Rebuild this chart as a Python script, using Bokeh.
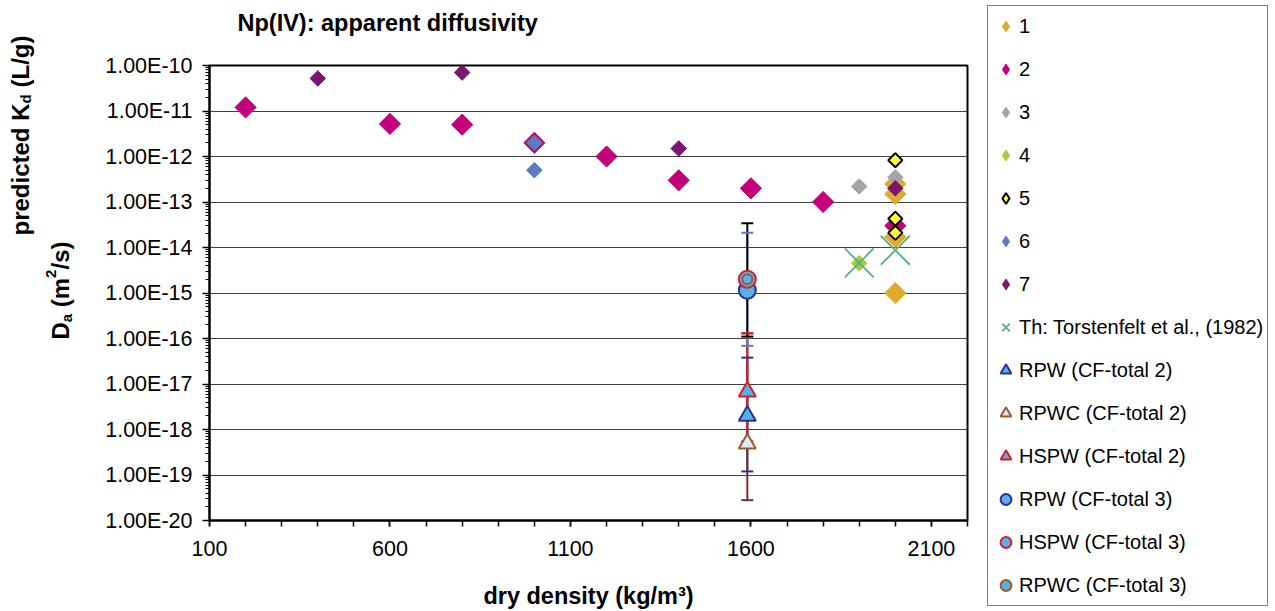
import math
from bokeh.plotting import figure
from bokeh.models import FixedTicker, CustomJSTickFormatter, Label, Legend, LegendItem
from bokeh.layouts import row, column
from bokeh.embed import file_html
from bokeh.resources import INLINE

# ---------------- data ----------------
s1_x = [2000, 2000, 2000, 2000]
s1_y = [2.5e-13, 1.5e-13, 1.7e-14, 1.0e-15]
s2_x = [200, 600, 800, 1000, 1200, 1400, 1600, 1800, 2000]
s2_y = [1.2e-11, 5.2e-12, 5.0e-12, 2.0e-12, 1.0e-12, 3.0e-13, 2.0e-13, 1.0e-13, 3.0e-14]
s3_x = [1900, 2000]
s3_y = [2.2e-13, 3.5e-13]
s4_x = [1900]
s4_y = [4.5e-15]
s5_x = [2000, 2000, 2000]
s5_y = [8.3e-13, 4.3e-14, 2.1e-14]
s6_x = [1000, 1000]
s6_y = [2.0e-12, 5.0e-13]
s7_x = [400, 800, 1400, 2000]
s7_y = [5.2e-11, 7.0e-11, 1.5e-12, 2.0e-13]
th_x = [1900, 2000]
th_y = [4.6e-15, 8.7e-15]

cf_x = [1590]
rpw2_y = [2.0e-18]
rpwc2_y = [4.9e-19]
hspw2_y = [6.8e-18]
rpw3_y = [1.15e-15]
hspw3_y = [2.0e-15]
rpwc3_y = [2.0e-15]

# error bars (lower, upper) at the CF points
eb_x = [1590, 1590, 1590, 1590, 1590]
eb_lo = [1.2e-19, 2.8e-20, 5.5e-19, 6.9e-17, 1.1e-16]
eb_hi = [3.8e-17, 1.3e-16, 1.3e-16, 2.1e-14, 3.4e-14]
eb_color = ["#2E3192", "#7A2E2E", "#D4202B", "#5A7DC0", "#000000"]

x_ticks = [100, 600, 1100, 1600, 2100]
x_minor = list(range(100, 2201, 100))
y_ticks = [10.0 ** e for e in range(-20, -9)]
y_minor = [k * 10.0 ** e for e in range(-20, -10) for k in range(2, 10)]

# ---------------- styles ----------------
STYLES = [
    ("1", dict(marker="diamond", fill_color="#E0AA2F", line_color="#E0AA2F")),
    ("2", dict(marker="diamond", fill_color="#C4007C", line_color="#C4007C")),
    ("3", dict(marker="diamond", fill_color="#A5A5A5", line_color="#A5A5A5")),
    ("4", dict(marker="diamond", fill_color="#A8C93C", line_color="#A8C93C")),
    ("5", dict(marker="diamond", fill_color="#FFFF33", line_color="black", line_width=2)),
    ("6", dict(marker="diamond", fill_color="#5A7DBE", line_color="#5A7DBE")),
    ("7", dict(marker="diamond", fill_color="#7B1672", line_color="#7B1672")),
    ("Th: Torstenfelt et al., (1982)", dict(marker="x", line_color="#5BAE84", line_width=1.8)),
    ("RPW (CF-total 2)", dict(marker="triangle", fill_color="#58B0E8", line_color="#2E3192", line_width=2)),
    ("RPWC (CF-total 2)", dict(marker="triangle", fill_color="#DCE9F6", line_color="#9B5A30", line_width=2)),
    ("HSPW (CF-total 2)", dict(marker="triangle", fill_color="#58B0E8", line_color="#D4202B", line_width=2)),
    ("RPW (CF-total 3)", dict(marker="circle", fill_color="#58B0E8", line_color="#2E3192", line_width=2)),
    ("HSPW (CF-total 3)", dict(marker="circle", fill_color="#58B0E8", line_color="#D4202B", line_width=2)),
    ("RPWC (CF-total 3)", dict(marker="circle", fill_color="#58B0E8", line_color="#9B5A30", line_width=2)),
]

# ---------------- layout constants ----------------
FONT = "Liberation Sans"
W, H = 1275, 611
LW = 95            # strip holding the y-axis title
TH = 45            # strip holding the chart title
FL, FR = 209, 967  # frame left / right in page px
FT = 65            # frame top in page px
PW = FR + 10 - LW  # main figure width
RW = W - LW - PW   # legend strip width


def no_align(fig):
    try:
        fig.frame_align = False
    except AttributeError:
        pass


def strip(width, height):
    f = figure(width=width, height=height, x_range=(0, width), y_range=(0, height),
               output_backend="svg", toolbar_location=None,
               x_axis_location=None, y_axis_location=None,
               min_border=0, min_border_left=0, min_border_right=0,
               min_border_top=0, min_border_bottom=0)
    f.outline_line_color = None
    f.grid.visible = False
    f.background_fill_color = "white"
    f.border_fill_color = "white"
    no_align(f)
    return f

# ---------------- y-title strip ----------------
lf = strip(LW, H)


def ylab(text, cx, cy, size):
    lf.add_layout(Label(x=cx, y=H - cy, text=text, angle=math.pi / 2,
                        text_font=FONT, text_font_style="bold",
                        text_font_size=f"{size}px", text_color="black",
                        text_align="left", text_baseline="alphabetic"))

# line 1: predicted K_d (L/g)
ylab("predicted K", 20, 235, 24)
ylab("d", 25, 103, 15)
ylab("(L/g)", 20, 87, 24)
# line 2: D_a (m^2/s)
ylab("D", 60, 339, 24)
ylab("a", 66, 321.7, 15)
ylab("(m", 60, 306.7, 24)
ylab("2", 50, 277.4, 15)
ylab("/s)", 60, 269, 24)

# ---------------- chart-title strip ----------------
tf = strip(PW, TH)
tf.add_layout(Label(x=237 - LW, y=TH - 22, text="Np(IV): apparent diffusivity",
                    text_font=FONT, text_font_style="bold", text_font_size="23.5px",
                    text_color="black", text_align="left", text_baseline="middle"))

# ---------------- main figure ----------------
p = figure(width=PW, height=H - TH, x_range=(100, 2200), y_range=(1e-20, 1e-10),
           y_axis_type="log", output_backend="svg", toolbar_location=None,
           min_border_left=FL - LW, min_border_right=PW - (FR - LW),
           min_border_top=FT - TH, min_border_bottom=91)
no_align(p)
p.background_fill_color = "white"
p.border_fill_color = "white"
p.outline_line_color = "black"
p.outline_line_width = 2

p.xgrid.visible = False
p.ygrid.ticker = FixedTicker(ticks=y_ticks)
p.ygrid.grid_line_color = "#404040"
p.ygrid.grid_line_width = 1

xa = p.xaxis[0]
xa.ticker = FixedTicker(ticks=x_ticks, minor_ticks=x_minor)
xa.axis_line_width = 2
xa.axis_line_color = "black"
xa.major_tick_out = 6
xa.major_tick_in = 0
xa.minor_tick_out = 6
xa.minor_tick_in = 0
xa.major_tick_line_width = 1.5
xa.minor_tick_line_width = 1.5
xa.major_label_text_font = FONT
xa.major_label_text_font_size = "21.5px"
xa.major_label_text_color = "black"
xa.major_label_standoff = 14
xa.axis_label = "dry density (kg/m³)"
xa.axis_label_text_font = FONT
xa.axis_label_text_font_style = "bold"
xa.axis_label_text_font_size = "23.5px"
xa.axis_label_text_color = "black"
xa.axis_label_standoff = 24

ya = p.yaxis[0]
ya.ticker = FixedTicker(ticks=y_ticks, minor_ticks=y_minor)
ya.formatter = CustomJSTickFormatter(code="return tick.toExponential(2).toUpperCase();")
ya.axis_line_width = 2
ya.axis_line_color = "black"
ya.major_tick_out = 7
ya.major_tick_in = 0
ya.minor_tick_out = 4
ya.minor_tick_in = 0
ya.major_tick_line_width = 1.5
ya.minor_tick_line_width = 1
ya.major_label_text_font = FONT
ya.major_label_text_font_size = "21.5px"
ya.major_label_text_color = "black"
ya.major_label_standoff = 10

# ---------------- error bars ----------------
p.segment(x0=eb_x, y0=eb_lo, x1=eb_x, y1=eb_hi, line_color=eb_color, line_width=2)
p.scatter(x=eb_x, y=eb_lo, marker="dash", size=12, line_color=eb_color, line_width=2)
p.scatter(x=eb_x, y=eb_hi, marker="dash", size=12, line_color=eb_color, line_width=2)

# ---------------- series ----------------
Q = math.pi / 4
data = [
    (s1_x, s1_y, 15), (s2_x, s2_y, 15), (s3_x, s3_y, 11), (s4_x, s4_y, 11),
    (s5_x, s5_y, 10), (s6_x, s6_y, 11), (s7_x, s7_y, 11), (th_x, th_y, 41),
    (cf_x, rpw2_y, 17), (cf_x, rpwc2_y, 17), (cf_x, hspw2_y, 17),
    (cf_x, rpw3_y, 17), (cf_x, hspw3_y, 17), (cf_x, rpwc3_y, 10),
]
for (name, st), (xs, ys, sz) in zip(STYLES, data):
    kw = dict(st)
    if kw["marker"] == "diamond":   # drawn as a 45-degree square
        kw["marker"] = "square"
        kw["angle"] = Q
    p.scatter(xs, ys, size=sz, **kw)

# ---------------- legend strip ----------------
rf = strip(RW, H)
items = []
nan = float("nan")
for name, st in STYLES:
    r = rf.scatter(x=[nan], y=[nan], **st)   # legend swatch only, draws nothing
    items.append(LegendItem(label=name, renderers=[r]))

lg = Legend(items=items)
LEG_H = 8 + 14 * 32 + 13 * 11
lg.location = (987 - (LW + PW), H - 7 - LEG_H)
lg.padding = 4
lg.margin = 0
lg.glyph_width = 27
lg.glyph_height = 32
lg.label_height = 22
lg.spacing = 11
lg.label_standoff = 0
lg.label_text_font = FONT
lg.label_text_font_size = "20px"
lg.label_text_color = "black"
lg.border_line_color = "black"
lg.border_line_width = 1
lg.background_fill_color = "white"
lg.background_fill_alpha = 1.0
rf.add_layout(lg, "center")

page = row(lf, column(tf, p, spacing=0), rf, spacing=0)
open("out.html", "w").write(file_html(page, INLINE))
